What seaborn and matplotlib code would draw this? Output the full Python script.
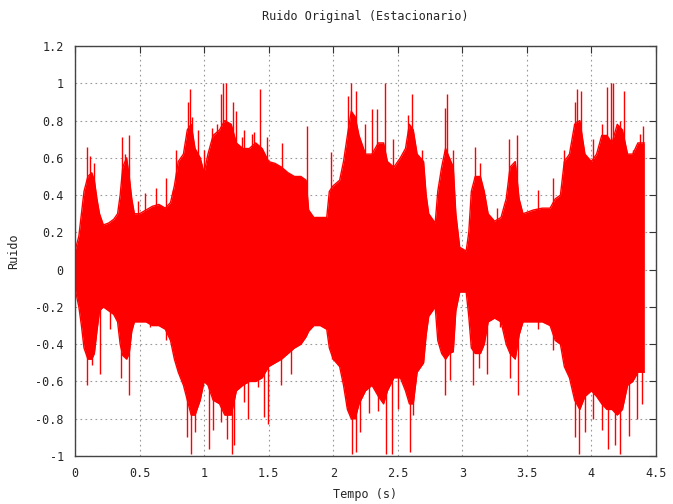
import matplotlib
matplotlib.use("Agg")
import matplotlib.pyplot as plt
import seaborn as sns
import numpy as np
from matplotlib.ticker import FuncFormatter

# envelope of the dense noise band (time in s)
env_t = [0.00, 0.03, 0.05, 0.07, 0.10, 0.13, 0.15, 0.17, 0.19, 0.22, 0.26, 0.30,
         0.33, 0.35, 0.37, 0.40, 0.42, 0.44, 0.46, 0.50, 0.55, 0.60, 0.65, 0.70,
         0.74, 0.77, 0.80, 0.84, 0.87, 0.90, 0.93, 0.97, 1.00, 1.03, 1.07, 1.12,
         1.16, 1.21, 1.25, 1.30, 1.35, 1.40, 1.45, 1.50, 1.55, 1.60, 1.65, 1.70,
         1.75, 1.79, 1.81, 1.85, 1.90, 1.95, 1.97, 2.00, 2.05, 2.08, 2.11, 2.14,
         2.17, 2.20, 2.25, 2.30, 2.35, 2.39, 2.42, 2.47, 2.52, 2.56, 2.59, 2.62,
         2.65, 2.70, 2.72, 2.74, 2.79, 2.81, 2.84, 2.87, 2.90, 2.93, 2.95, 2.98,
         3.03, 3.05, 3.07, 3.10, 3.14, 3.17, 3.20, 3.25, 3.30, 3.34, 3.37, 3.41,
         3.44, 3.47, 3.55, 3.62, 3.68, 3.72, 3.76, 3.79, 3.83, 3.87, 3.91, 3.95,
         4.00, 4.04, 4.08, 4.12, 4.16, 4.20, 4.24, 4.28, 4.32, 4.36, 4.41]
env_up = [0.10, 0.18, 0.30, 0.42, 0.50, 0.52, 0.48, 0.38, 0.30, 0.24, 0.25, 0.27,
          0.30, 0.40, 0.55, 0.60, 0.50, 0.38, 0.30, 0.30, 0.32, 0.34, 0.35, 0.33,
          0.36, 0.45, 0.58, 0.62, 0.75, 0.78, 0.65, 0.60, 0.52, 0.62, 0.72, 0.75,
          0.80, 0.78, 0.68, 0.65, 0.65, 0.68, 0.65, 0.58, 0.57, 0.55, 0.52, 0.50,
          0.50, 0.48, 0.32, 0.28, 0.28, 0.28, 0.42, 0.45, 0.48, 0.58, 0.72, 0.85,
          0.82, 0.72, 0.62, 0.62, 0.68, 0.68, 0.58, 0.55, 0.60, 0.65, 0.78, 0.75,
          0.62, 0.58, 0.40, 0.30, 0.25, 0.42, 0.55, 0.65, 0.60, 0.55, 0.30, 0.12,
          0.10, 0.20, 0.42, 0.50, 0.50, 0.42, 0.30, 0.26, 0.28, 0.38, 0.55, 0.58,
          0.38, 0.30, 0.32, 0.33, 0.33, 0.38, 0.40, 0.58, 0.62, 0.78, 0.80, 0.62,
          0.58, 0.62, 0.72, 0.72, 0.68, 0.78, 0.75, 0.62, 0.62, 0.68, 0.68]
env_lo = [-0.10, -0.20, -0.30, -0.42, -0.48, -0.48, -0.45, -0.33, -0.22, -0.20, -0.22, -0.24,
          -0.28, -0.40, -0.46, -0.48, -0.45, -0.33, -0.28, -0.28, -0.28, -0.30, -0.30, -0.32,
          -0.38, -0.48, -0.55, -0.62, -0.70, -0.78, -0.78, -0.70, -0.60, -0.62, -0.70, -0.72,
          -0.78, -0.78, -0.65, -0.62, -0.60, -0.60, -0.58, -0.52, -0.50, -0.48, -0.45, -0.42,
          -0.40, -0.36, -0.33, -0.30, -0.30, -0.32, -0.42, -0.48, -0.52, -0.62, -0.75, -0.80,
          -0.80, -0.72, -0.65, -0.62, -0.68, -0.72, -0.65, -0.58, -0.58, -0.65, -0.72, -0.72,
          -0.55, -0.50, -0.35, -0.25, -0.20, -0.38, -0.45, -0.48, -0.45, -0.44, -0.22, -0.12,
          -0.12, -0.25, -0.42, -0.45, -0.45, -0.40, -0.28, -0.26, -0.28, -0.40, -0.45, -0.48,
          -0.35, -0.28, -0.28, -0.28, -0.30, -0.38, -0.40, -0.52, -0.58, -0.70, -0.75, -0.68,
          -0.65, -0.68, -0.72, -0.75, -0.75, -0.78, -0.75, -0.62, -0.60, -0.55, -0.55]

# isolated peaks sticking out of the band
peak_up_t = [0.09, 0.12, 0.146, 0.365, 0.39, 0.416, 0.49, 0.545, 0.627, 0.707, 0.76, 0.784,
             0.874, 0.892, 0.91, 0.95, 1.0, 1.06, 1.10, 1.13, 1.15, 1.167, 1.226, 1.244,
             1.29, 1.31, 1.37, 1.387, 1.43, 1.49, 1.605, 1.798, 1.983, 2.114, 2.14, 2.176,
             2.248, 2.30, 2.338, 2.40, 2.467, 2.58, 2.613, 2.686, 2.866, 2.884, 2.93, 3.098,
             3.137, 3.27, 3.364, 3.42, 3.59, 3.705, 3.79, 3.873, 3.89, 3.92, 4.015, 4.08,
             4.12, 4.15, 4.17, 4.22, 4.25, 4.325, 4.377, 4.40]
peak_up_v = [0.66, 0.61, 0.57, 0.71, 0.62, 0.72, 0.37, 0.41, 0.44, 0.49, 0.43, 0.64,
             0.90, 0.97, 0.82, 0.75, 0.64, 0.76, 0.78, 0.94, 1.00, 1.00, 0.90, 0.85,
             0.71, 0.75, 0.73, 0.74, 0.97, 0.71, 0.68, 0.77, 0.63, 0.93, 1.00, 0.96,
             0.78, 0.86, 0.86, 1.00, 0.70, 0.83, 0.94, 0.64, 0.87, 0.94, 0.64, 0.66,
             0.57, 0.33, 0.70, 0.72, 0.43, 0.49, 0.64, 0.90, 0.97, 0.96, 0.70, 0.78,
             0.98, 1.00, 1.00, 0.80, 0.96, 0.64, 0.73, 0.77]
peak_lo_t = [0.09, 0.134, 0.19, 0.27, 0.357, 0.42, 0.584, 0.707, 0.80, 0.866, 0.897, 0.93,
             1.036, 1.07, 1.13, 1.175, 1.213, 1.234, 1.31, 1.337, 1.42, 1.464, 1.495, 1.593,
             1.675, 1.99, 2.11, 2.145, 2.18, 2.21, 2.274, 2.35, 2.41, 2.454, 2.505, 2.598,
             2.62, 2.866, 2.905, 3.085, 3.13, 3.19, 3.29, 3.37, 3.43, 3.59, 3.705, 3.81,
             3.876, 3.90, 3.95, 4.015, 4.08, 4.13, 4.18, 4.22, 4.29, 4.35, 4.39]
peak_lo_v = [-0.62, -0.51, -0.56, -0.32, -0.58, -0.67, -0.31, -0.38, -0.53, -0.90, -0.99, -0.87,
             -0.96, -0.86, -0.82, -0.91, -0.99, -0.94, -0.71, -0.80, -0.63, -0.79, -0.83, -0.62,
             -0.56, -0.48, -0.73, -0.99, -0.98, -0.87, -0.77, -0.76, -0.99, -0.99, -0.75, -0.98,
             -0.78, -0.67, -0.59, -0.62, -0.53, -0.56, -0.31, -0.58, -0.67, -0.32, -0.43, -0.54,
             -0.90, -0.99, -0.87, -0.80, -0.86, -0.96, -0.94, -0.99, -0.89, -0.80, -0.72]

x_ticks = [0, 0.5, 1, 1.5, 2, 2.5, 3, 3.5, 4, 4.5]
y_ticks = [-1, -0.8, -0.6, -0.4, -0.2, 0, 0.2, 0.4, 0.6, 0.8, 1, 1.2]

sns.set_style("white")
plt.rcParams['font.family'] = ['DejaVu Sans Mono']
plt.rcParams['font.size'] = 8.5

fig = plt.figure(figsize=(6.73, 5.04), dpi=100)
ax = fig.add_axes([0.1114, 0.0952, 0.8633, 0.8135])

red = '#ff0000'
ax.fill_between(env_t, env_lo, env_up, color=red, linewidth=0, zorder=3)
sns.lineplot(x=env_t, y=env_up, color=red, linewidth=1, ax=ax, zorder=3)
sns.lineplot(x=env_t, y=env_lo, color=red, linewidth=1, ax=ax, zorder=3)
ax.vlines(peak_up_t, 0, peak_up_v, color=red, linewidth=1.0, zorder=3)
ax.vlines(peak_lo_t, peak_lo_v, 0, color=red, linewidth=1.0, zorder=3)

ax.set_xlim(0, 4.5)
ax.set_ylim(-1, 1.2)
ax.set_xticks(x_ticks)
ax.set_yticks(y_ticks)
fmt = FuncFormatter(lambda v, p: '%g' % round(v, 2))
ax.xaxis.set_major_formatter(fmt)
ax.yaxis.set_major_formatter(fmt)
ax.tick_params(direction='in', length=5, width=0.8, color='#333333',
               top=True, right=True, labelsize=8.5, pad=8)
ax.grid(True, linestyle=(0, (1.5, 3)), color='#999999', linewidth=0.8, zorder=0)
ax.set_axisbelow(True)
for s in ax.spines.values():
    s.set_color('#444444')
    s.set_linewidth(1.0)
    s.set_zorder(4)

ax.set_title('Ruido Original (Estacionario)', fontsize=8.5, pad=19)
ax.set_xlabel('Tempo (s)', fontsize=8.5, labelpad=6)
ax.set_ylabel('Ruido', fontsize=8.5, labelpad=11)

fig.savefig('out.png', dpi=100)
